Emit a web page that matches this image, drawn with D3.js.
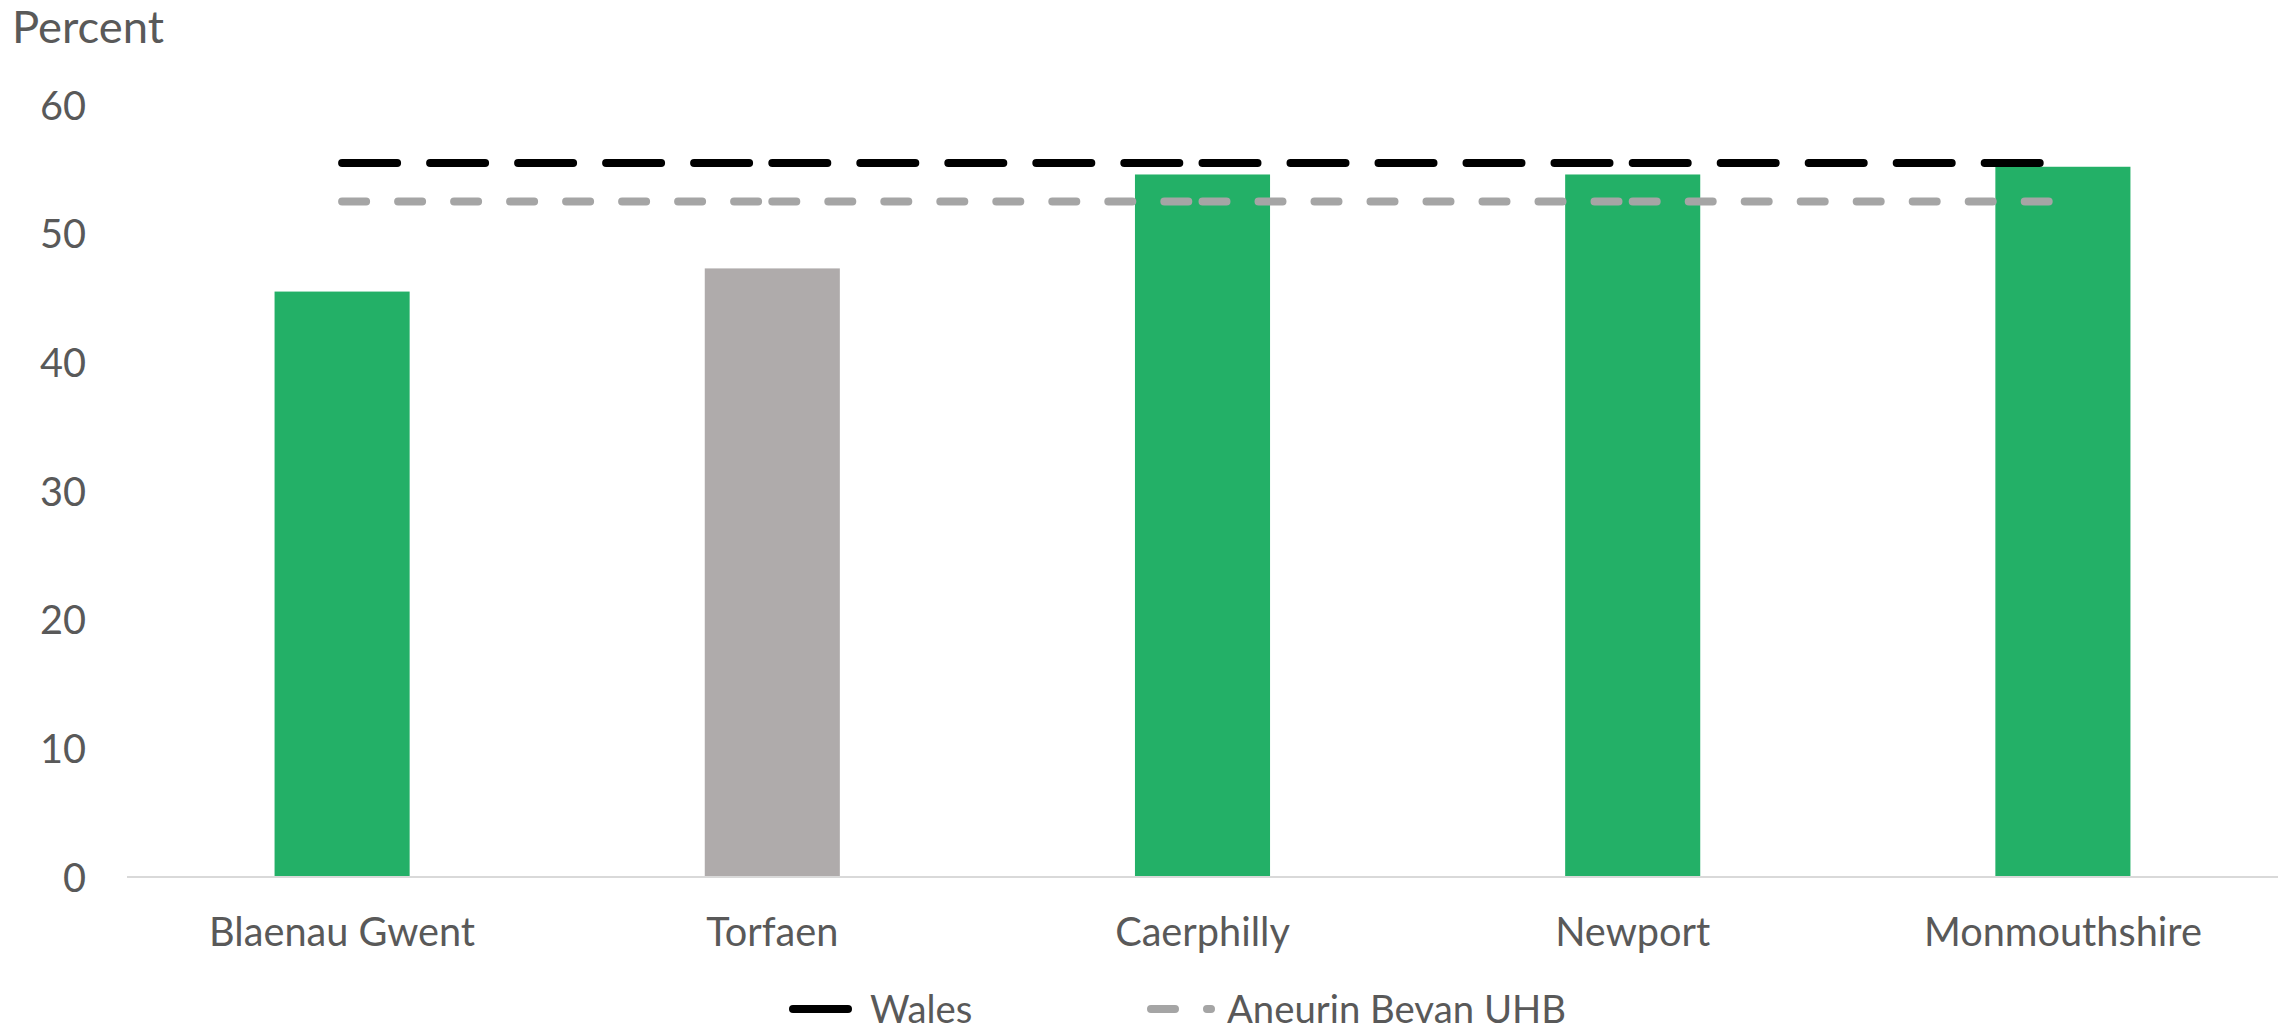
<!DOCTYPE html>
<html>
<head>
<meta charset="utf-8">
<script src="https://cdn.jsdelivr.net/npm/d3@7"></script>
<style>
  html, body { margin: 0; padding: 0; background: #fff; }
  svg { display: block; }
</style>
</head>
<body>
<svg id="chart" width="2280" height="1030"></svg>
<script>
// ---- Data ----
const categories = ["Blaenau Gwent", "Torfaen", "Caerphilly", "Newport", "Monmouthshire"];
const barValues = [45.5, 47.3, 54.6, 54.6, 55.2];
const barColors = ["#23B067", "#AFABAB", "#23B067", "#23B067", "#23B067"];
const walesValues = [55.5, 55.5, 55.5, 55.5, 55.5];
const abuhbValues = [52.5, 52.5, 52.5, 52.5, 52.5];
const yTicks = [0, 10, 20, 30, 40, 50, 60];
const seriesNames = ["Wales", "Aneurin Bevan UHB"];
const yTitle = "Percent";

// ---- Layout ----
const plotLeft = 127, plotRight = 2278, plotTop = 105, plotBottom = 877;
const textColor = "#595959";
const fontFamily = "Lato, 'Open Sans', sans-serif";

const svg = d3.select("#chart");

// calibrate font size to match Calibri-like widths
const probe = svg.append("text").attr("font-family", fontFamily).attr("font-size", 42).text("Monmouthshire");
const measured = probe.node().getComputedTextLength();
probe.remove();
const k = 278 / measured;
const fs = 42 * k;
const fsLegend = fs * 0.965;
const fsTitle = 48 * k;

const x = d3.scaleBand().domain(categories).range([plotLeft, plotRight]).padding(0);
const y = d3.scaleLinear().domain([0, 60]).range([plotBottom, plotTop]);
const barW = x.bandwidth() * 0.314;
const cx = c => x(c) + x.bandwidth() / 2;

// Bars
svg.append("g").selectAll("rect")
  .data(categories)
  .join("rect")
  .attr("x", c => cx(c) - barW / 2)
  .attr("y", (c, i) => y(barValues[i]))
  .attr("width", barW)
  .attr("height", (c, i) => y(0) - y(barValues[i]))
  .attr("fill", (c, i) => barColors[i]);

// Baseline
svg.append("line")
  .attr("x1", plotLeft).attr("x2", plotRight)
  .attr("y1", y(0)).attr("y2", y(0))
  .attr("stroke", "#D9D9D9").attr("stroke-width", 2);

// Y axis labels
const yAxis = d3.axisLeft(y).tickValues(yTicks).tickSize(0).tickPadding(0).tickFormat(d3.format("d"));
const gy = svg.append("g").attr("transform", `translate(${86},0)`).call(yAxis);
gy.select(".domain").remove();
gy.selectAll("text")
  .attr("font-family", fontFamily).attr("font-size", fs).attr("fill", textColor)
  .attr("dy", "0.36em");

// X axis labels
const xAxis = d3.axisBottom(x).tickSize(0).tickPadding(0);
const gx = svg.append("g").attr("transform", `translate(0,${946})`).call(xAxis);
gx.select(".domain").remove();
gx.selectAll("text")
  .attr("font-family", fontFamily).attr("font-size", fs).attr("fill", textColor)
  .attr("dy", 0);

// Title
svg.append("text")
  .attr("x", 12).attr("y", 43)
  .attr("font-family", fontFamily).attr("font-size", fsTitle).attr("fill", textColor)
  .text(yTitle);

// Line series drawn segment by segment (dash pattern restarts at each point)
function drawSeries(vals, color, dash) {
  const segs = d3.range(vals.length - 1).map(i => [[cx(categories[i]), y(vals[i])], [cx(categories[i + 1]), y(vals[i + 1])]]);
  svg.append("g").selectAll("path")
    .data(segs)
    .join("path")
    .attr("d", d => d3.line()(d))
    .attr("fill", "none")
    .attr("stroke", color)
    .attr("stroke-width", 8)
    .attr("stroke-linecap", "round")
    .attr("stroke-dasharray", dash);
}
drawSeries(abuhbValues, "#A5A5A5", "24,32");
drawSeries(walesValues, "#000000", "55,33");

// Legend
const legY = 1009;
const leg = svg.append("g");
leg.append("path").attr("d", d3.line()([[793, legY], [849, legY]]))
  .attr("stroke", "#000").attr("stroke-width", 8).attr("stroke-linecap", "round").attr("fill", "none")
  .attr("stroke-dasharray", "55,33");
leg.append("text").attr("x", 870).attr("y", legY).attr("dy", "0.36em")
  .attr("font-family", fontFamily).attr("font-size", fsLegend).attr("fill", textColor).text(seriesNames[0]);
leg.append("path").attr("d", d3.line()([[1151, legY], [1211, legY]]))
  .attr("stroke", "#A5A5A5").attr("stroke-width", 8).attr("stroke-linecap", "round").attr("fill", "none")
  .attr("stroke-dasharray", "24,32");
leg.append("text").attr("x", 1227).attr("y", legY).attr("dy", "0.36em")
  .attr("font-family", fontFamily).attr("font-size", fsLegend).attr("fill", textColor).text(seriesNames[1]);
</script>
</body>
</html>
